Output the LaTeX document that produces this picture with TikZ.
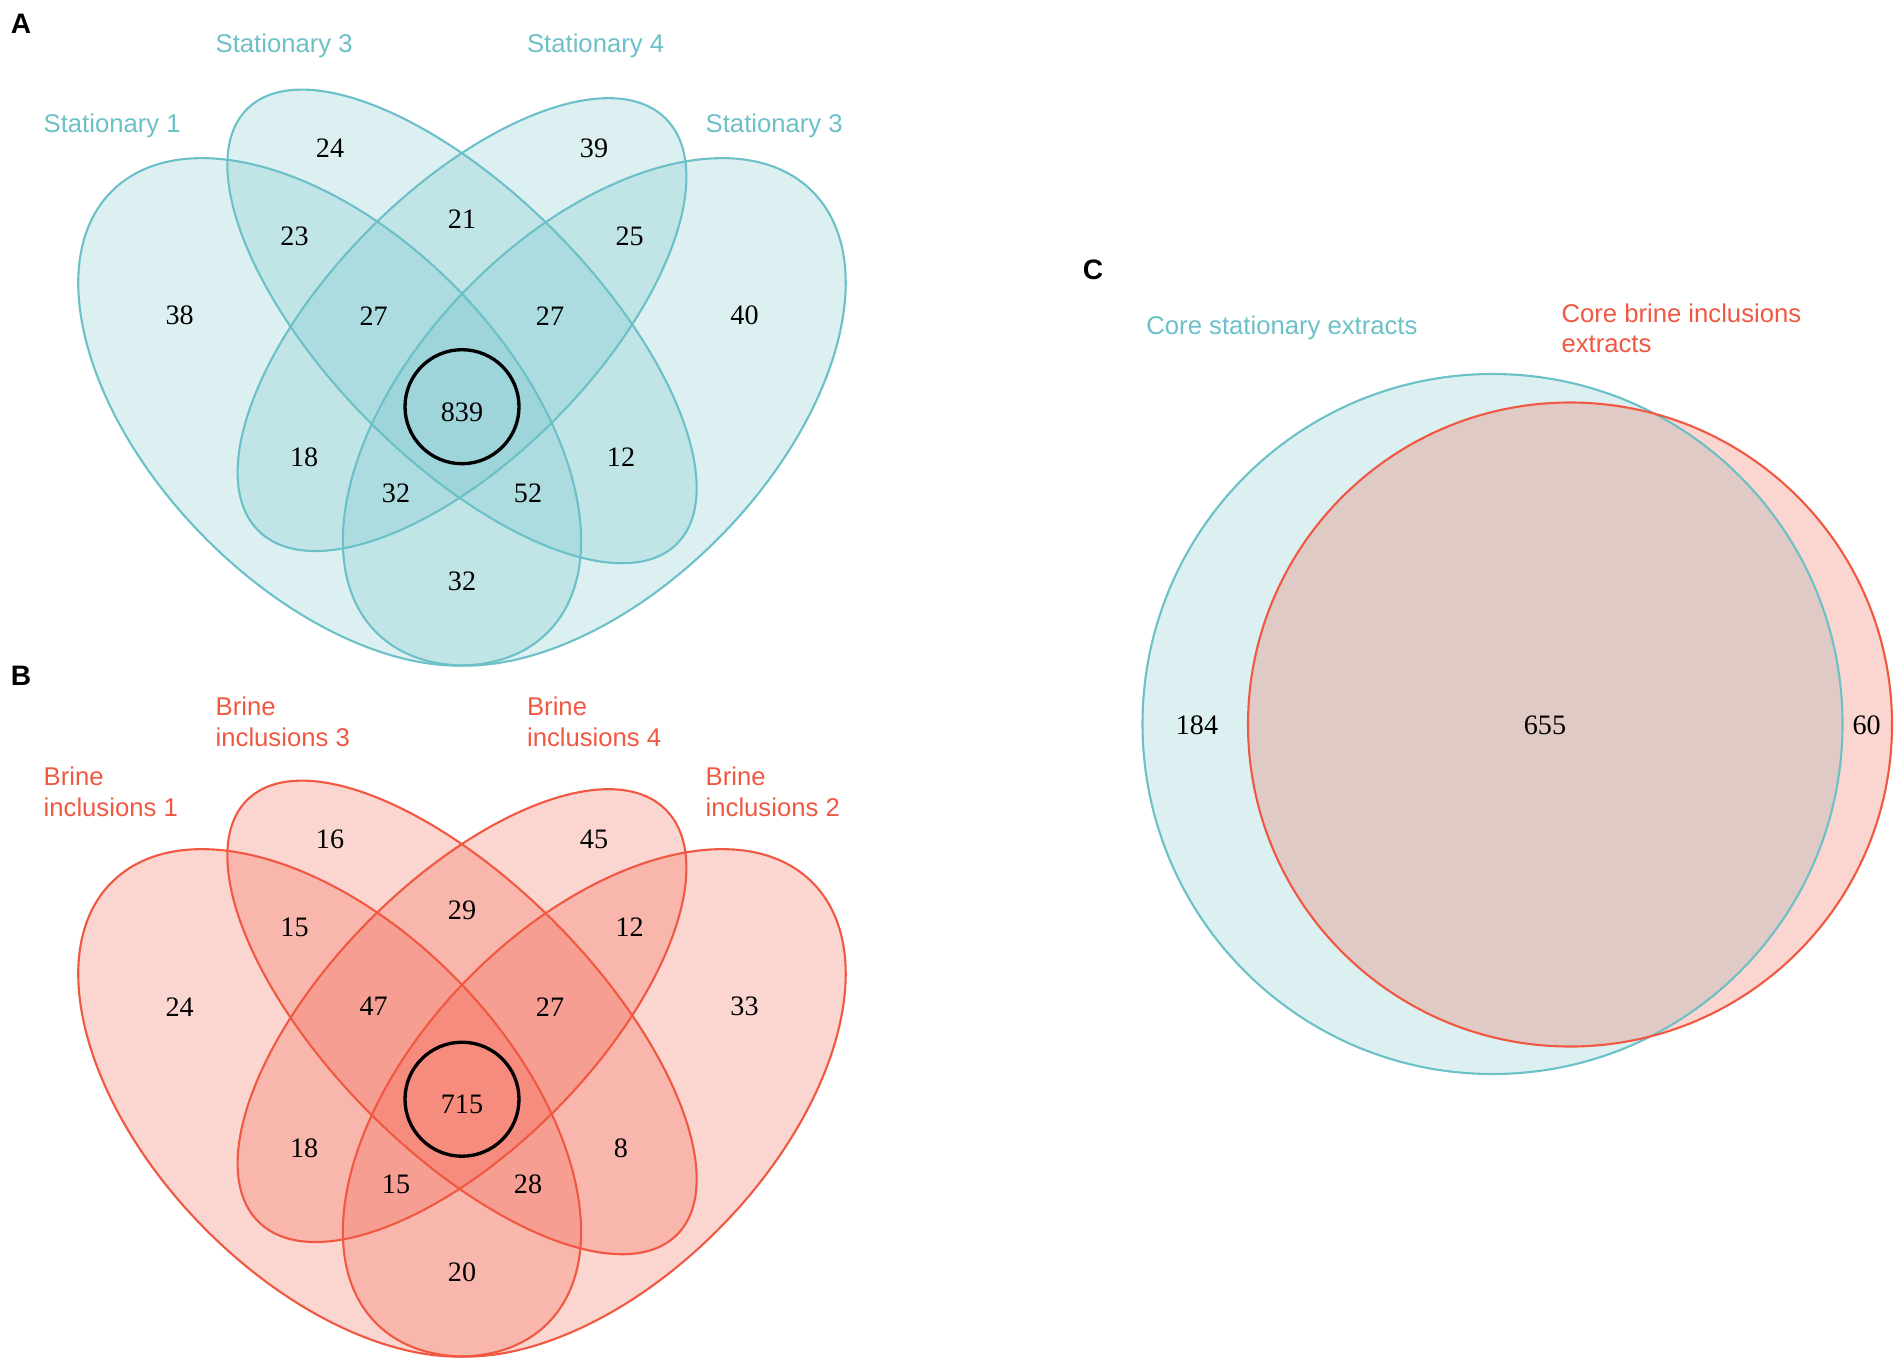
\documentclass[tikz,border=0pt]{standalone}
\usepackage{fontspec}
\setmainfont{Liberation Serif}
\setsansfont{Liberation Sans}
\definecolor{statcol}{RGB}{108,192,199}
\definecolor{brinecol}{RGB}{240,88,66}
\begin{document}
\begin{tikzpicture}[x=0.01cm,y=0.01cm,
    num/.style={font=\fontsize{8}{9.6}\selectfont,inner sep=0pt},
    setlabel/.style={font=\sffamily\fontsize{7.3}{8.6}\selectfont,anchor=west,inner sep=0pt,align=left},
    panel/.style={font=\sffamily\bfseries\fontsize{8}{9.6}\selectfont,inner sep=0pt},
    stat/.style={draw=statcol,fill=statcol,fill opacity=0.24,line width=0.6pt},
    brine/.style={draw=brinecol,fill=brinecol,fill opacity=0.25,line width=0.6pt},
    core/.style={draw=black,line width=0.95pt}]
  \useasboundingbox (0,0) rectangle (1904,1362);

  % panel A: stationary
  \node[panel] (pa) at (21,1338) {A};
  \begin{scope}[shift={(21,531.9)},xscale=882,yscale=890]
    \filldraw[stat,rotate around={135:(0.35,0.47)}] (0.35,0.47) ellipse (0.35 and 0.20);
    \filldraw[stat,rotate around={135:(0.50,0.566)}] (0.50,0.566) ellipse (0.345 and 0.15);
    \filldraw[stat,rotate around={45:(0.50,0.568)}] (0.50,0.568) ellipse (0.327 and 0.15);
    \filldraw[stat,rotate around={45:(0.65,0.47)}] (0.65,0.47) ellipse (0.35 and 0.20);
  \end{scope}
  \draw[core] (462,955.3) circle (57);
  \node[setlabel,text=statcol] (sa1) at (43,1236.2) {Stationary 1};
  \node[setlabel,text=statcol] (sa3) at (215,1316.5) {Stationary 3};
  \node[setlabel,text=statcol] (sa4) at (526.4,1316.5) {Stationary 4};
  \node[setlabel,text=statcol] (sa2) at (705,1236.2) {Stationary 3};
  \node[num] (a24) at (330,1213.7) {24};
  \node[num] (a39) at (594,1213.7) {39};
  \node[num] (a23) at (294.5,1125.7) {23};
  \node[num] (a21) at (462,1143) {21};
  \node[num] (a25) at (629.7,1125.7) {25};
  \node[num] (a38) at (179.7,1046.3) {38};
  \node[num] (a27l) at (373.7,1046.3) {27};
  \node[num] (a27r) at (550,1046.3) {27};
  \node[num] (a40) at (744.5,1046.3) {40};
  \node[num] (a839) at (462,950) {839};
  \node[num] (a18) at (304.2,904.5) {18};
  \node[num] (a12) at (621,904.5) {12};
  \node[num] (a32l) at (396,869) {32};
  \node[num] (a52) at (528,869) {52};
  \node[num] (a32b) at (462,781) {32};

  % panel B: brine inclusions
  \node[panel] (pb) at (21,686.5) {B};
  \begin{scope}[shift={(21,-159.1)},xscale=882,yscale=890]
    \filldraw[brine,rotate around={135:(0.35,0.47)}] (0.35,0.47) ellipse (0.35 and 0.20);
    \filldraw[brine,rotate around={135:(0.50,0.566)}] (0.50,0.566) ellipse (0.345 and 0.15);
    \filldraw[brine,rotate around={45:(0.50,0.568)}] (0.50,0.568) ellipse (0.327 and 0.15);
    \filldraw[brine,rotate around={45:(0.65,0.47)}] (0.65,0.47) ellipse (0.35 and 0.20);
  \end{scope}
  \draw[core] (462,262.8) circle (57);
  \node[setlabel,text=brinecol] (sb1) at (43,570.3) {Brine\\inclusions 1};
  \node[setlabel,text=brinecol] (sb3) at (215,640.1) {Brine\\inclusions 3};
  \node[setlabel,text=brinecol] (sb4) at (526.4,640.1) {Brine\\inclusions 4};
  \node[setlabel,text=brinecol] (sb2) at (705,570.3) {Brine\\inclusions 2};
  \node[num] (b16) at (330,522.7) {16};
  \node[num] (b45) at (594,522.7) {45};
  \node[num] (b15t) at (294.5,434.7) {15};
  \node[num] (b29) at (462,452) {29};
  \node[num] (b12) at (629.7,434.7) {12};
  \node[num] (b24) at (179.7,355.3) {24};
  \node[num] (b47) at (373.7,355.3) {47};
  \node[num] (b27) at (550,355.3) {27};
  \node[num] (b33) at (744.5,355.3) {33};
  \node[num] (b715) at (462,258) {715};
  \node[num] (b18) at (304.2,213.5) {18};
  \node[num] (b8) at (621,213.5) {8};
  \node[num] (b15b) at (396,178) {15};
  \node[num] (b28) at (528,178) {28};
  \node[num] (b20) at (462,90) {20};

  % panel C: core sets
  \node[panel] (pc) at (1093,1092) {C};
  \fill[statcol,fill opacity=0.24] (1492.5,638) circle (350);
  \fill[brinecol,fill opacity=0.25] (1570,637.5) circle (322);
  \draw[statcol,line width=0.6pt] (1492.5,638) circle (350);
  \draw[brinecol,line width=0.6pt] (1570,637.5) circle (322);
  \node[setlabel,text=statcol] (cs) at (1145.7,1034.2) {Core stationary extracts};
  \node[setlabel,text=brinecol] (cb) at (1560.8,1034) {Core brine inclusions\\extracts};
  \node[num] (c184) at (1197,637) {184};
  \node[num] (c655) at (1545,636.5) {655};
  \node[num] (c60) at (1866.6,637) {60};
\end{tikzpicture}
\end{document}
